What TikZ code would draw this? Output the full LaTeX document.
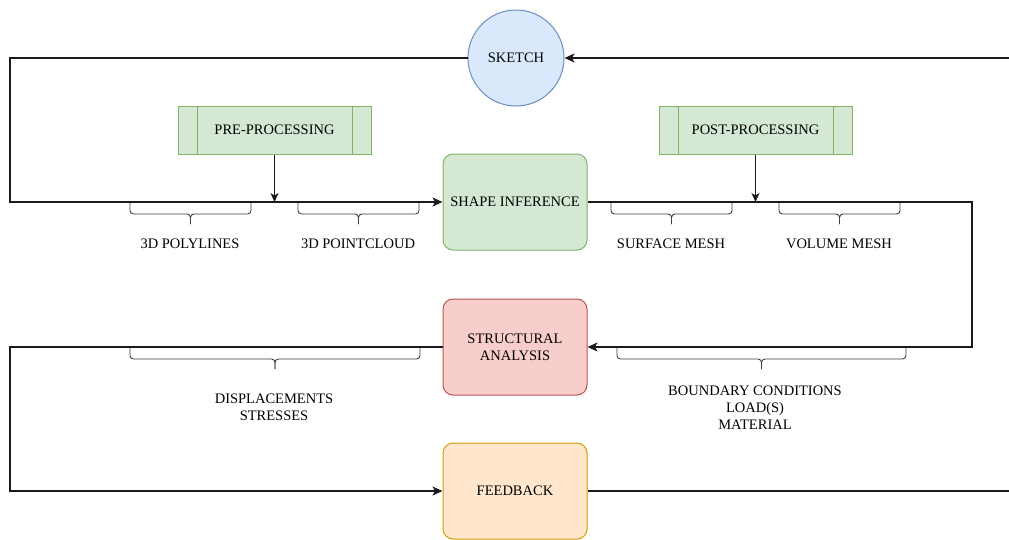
\documentclass[tikz,border=0pt]{standalone}
\usepackage{fontspec}
\setmainfont{Liberation Serif}
\usetikzlibrary{shapes.geometric,arrows.meta}
\definecolor{bluefill}{HTML}{DAE8FC}\definecolor{bluedraw}{HTML}{6C8EBF}
\definecolor{greenfill}{HTML}{D5E8D4}\definecolor{greendraw}{HTML}{82B366}
\definecolor{redfill}{HTML}{F8CECC}\definecolor{reddraw}{HTML}{B85450}
\definecolor{orangefill}{HTML}{FFE6CC}\definecolor{orangedraw}{HTML}{D79B00}
\definecolor{linecol}{HTML}{1A1A1A}
\newcommand\mybrace[3]{% x1, x2, yline
  \pgfmathsetmacro\xm{(#1+#2)/2}
  \draw[bracestyle] (#1,#3+1) -- (#1,#3+12) -- (\xm,#3+12) -- (\xm,#3+22);
  \draw[bracestyle] (#2,#3+1) -- (#2,#3+12) -- (\xm,#3+12) -- (\xm,#3+22);
}
\tikzset{
  base/.style={font=\fontsize{14.5}{17}\selectfont, align=center, text=black},
  proc/.style={base, draw, line width=1pt, rounded corners=10pt, minimum width=144pt, minimum height=96pt, inner sep=0pt},
  subproc/.style={base, draw=greendraw, fill=greenfill, line width=1pt, minimum width=193pt, minimum height=48pt, inner sep=0pt},
  lbl/.style={base},
  flow/.style={draw=linecol, line width=1.3pt},
  arr/.style={flow, -{Stealth[length=10pt,width=9pt,inset=2.5pt]}},
  thinarr/.style={draw=linecol, line width=1pt, -{Stealth[length=9pt,width=8pt,inset=2.5pt]}},
  bracestyle/.style={draw=linecol!85, line width=0.9pt, rounded corners=3.5pt},
}
\begin{document}
\begin{tikzpicture}[x=1pt,y=-1pt]
\useasboundingbox (0,0) rectangle (1009,539);
% nodes
\node[base, ellipse, draw=bluedraw, fill=bluefill, line width=1pt, minimum width=96pt, minimum height=96pt, inner sep=0pt] (sketch) at (516,58) {SKETCH};
\node[proc, draw=greendraw, fill=greenfill] (shape) at (515,202) {SHAPE INFERENCE};
\node[proc, draw=reddraw, fill=redfill] (struct) at (515,347) {STRUCTURAL\\ANALYSIS};
\node[proc, draw=orangedraw, fill=orangefill] (feed) at (515,491) {FEEDBACK};
\node[subproc] (pre) at (274.5,130) {PRE-PROCESSING};
\node[subproc] (post) at (755.5,130) {POST-PROCESSING};
\draw[greendraw, line width=1pt] ([xshift=20pt]pre.north west) -- ([xshift=20pt]pre.south west)
  ([xshift=-19pt]pre.north east) -- ([xshift=-19pt]pre.south east);
\draw[greendraw, line width=1pt] ([xshift=20pt]post.north west) -- ([xshift=20pt]post.south west)
  ([xshift=-19pt]post.north east) -- ([xshift=-19pt]post.south east);
% coordinates
\coordinate (topleft) at (10,58);
\coordinate (topright) at (1009,58);
\coordinate (rightturn) at (972,202);
\coordinate (leftturn) at (10,347);
\coordinate (bottomright) at (1009,491);
% connectors
\draw[arr] (sketch.west) -- (topleft) |- (shape.west);
\draw[arr] (topright) -- (sketch.east);
\draw[arr] (shape.east) -- (rightturn) |- (struct.east);
\draw[arr] (struct.west) -- (leftturn) |- (feed.west);
\draw[flow] (feed.east) -- (bottomright);
\draw[thinarr] (pre.south) -- (pre.south |- shape.west);
\draw[thinarr] (post.south) -- (post.south |- shape.east);
% braces
\mybrace{130}{251}{202}
\mybrace{298}{419}{202}
\mybrace{611}{732}{202}
\mybrace{779}{900}{202}
\mybrace{130}{420}{347}
\mybrace{617}{906}{347}
% labels
\node[lbl] (polylines) at (190,244) {3D POLYLINES};
\node[lbl] (pointcloud) at (358,244) {3D POINTCLOUD};
\node[lbl] (surface) at (671,244) {SURFACE MESH};
\node[lbl] (volume) at (839,244) {VOLUME MESH};
\node[lbl] (displ) at (274,407.5) {DISPLACEMENTS\\STRESSES};
\node[lbl] (bc) at (755,407.5) {BOUNDARY CONDITIONS\\LOAD(S)\\MATERIAL};
\end{tikzpicture}
\end{document}
